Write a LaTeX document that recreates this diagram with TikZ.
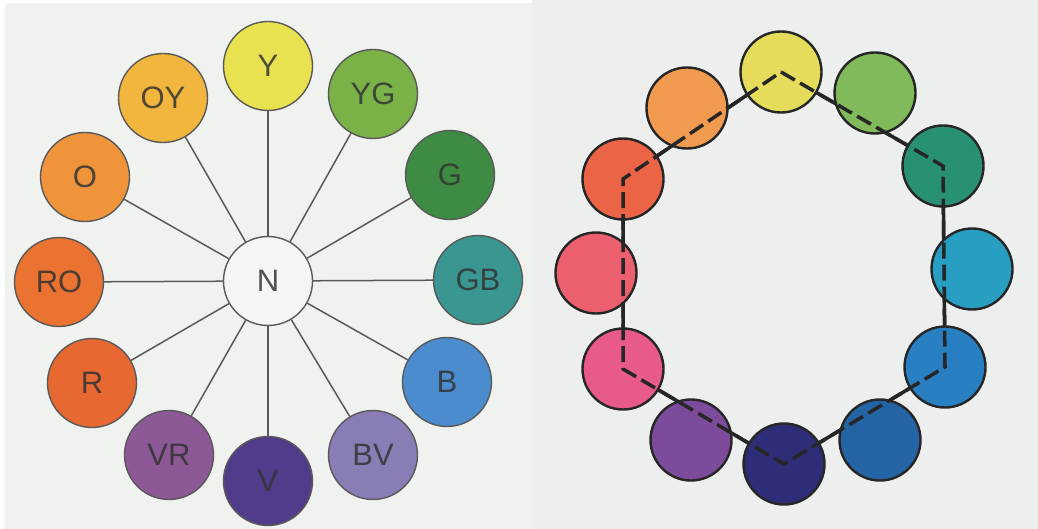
\documentclass[tikz,border=0pt]{standalone}
\usepackage{fontspec}
\setmainfont{Liberation Sans}

% 左图色相
\definecolor{hueY}{HTML}{E8E250}
\definecolor{hueYG}{HTML}{7AB248}
\definecolor{hueG}{HTML}{3E8C44}
\definecolor{hueGB}{HTML}{3A9691}
\definecolor{hueB}{HTML}{4A8CCD}
\definecolor{hueBV}{HTML}{8A7CB4}
\definecolor{hueV}{HTML}{503C8A}
\definecolor{hueVR}{HTML}{8C5896}
\definecolor{hueR}{HTML}{E86832}
\definecolor{hueRO}{HTML}{EB7332}
\definecolor{hueO}{HTML}{F0943C}
\definecolor{hueOY}{HTML}{F2B63E}
\definecolor{hueN}{HTML}{F5F6F4}
% 右图色相
\definecolor{dotY}{HTML}{E4DC5A}
\definecolor{dotYG}{HTML}{80BA5A}
\definecolor{dotG}{HTML}{289173}
\definecolor{dotGB}{HTML}{289EC3}
\definecolor{dotB}{HTML}{2880C3}
\definecolor{dotBV}{HTML}{2364A5}
\definecolor{dotV}{HTML}{2D2D78}
\definecolor{dotVR}{HTML}{7D4B9B}
\definecolor{dotR}{HTML}{E85A8C}
\definecolor{dotRO}{HTML}{EB5F6E}
\definecolor{dotO}{HTML}{EB6446}
\definecolor{dotOY}{HTML}{F09B50}
% 纸色
\definecolor{paperL}{HTML}{F0F2EF}
\definecolor{paperR}{HTML}{EDEFEF}

\begin{document}
\begin{tikzpicture}[x=1pt, y=-1pt,
    hue/.style={circle, draw=black!65, line width=1.4pt, minimum size=89pt, inner sep=0pt,
        font=\fontsize{31}{36}\selectfont, text=black!80, text opacity=0.85},
    spoke/.style={black!65, line width=1.5pt},
    disc/.style={circle, draw=black!85, line width=2.4pt, minimum size=81pt, inner sep=0pt},
    hexa/.style={black!85, line width=3.5pt}]
    \useasboundingbox (0,0) rectangle (1038,529);
    % 底色
    \fill[white] (0,0) rectangle (1038,529);
    \fill[paperL] (5,3) rectangle (532,529);
    \fill[paperR] (532,0) rectangle (1038,529);

    % 左：十二色相与中间的 N
    \node[hue, fill=hueN] (n) at (268,281) {N};
    \node[hue, fill=hueY] (y) at (268,66) {Y};
    \node[hue, fill=hueYG] (yg) at (373,94) {YG};
    \node[hue, fill=hueG] (g) at (450,175) {G};
    \node[hue, fill=hueGB] (gb) at (478,280) {GB};
    \node[hue, fill=hueB] (b) at (447,382) {B};
    \node[hue, fill=hueBV] (bv) at (373,455) {BV};
    \node[hue, fill=hueV] (v) at (268,481) {V};
    \node[hue, fill=hueVR] (vr) at (169,455) {VR};
    \node[hue, fill=hueR] (r) at (92,383) {R};
    \node[hue, fill=hueRO] (ro) at (59,282) {RO};
    \node[hue, fill=hueO] (o) at (85,177) {O};
    \node[hue, fill=hueOY] (oy) at (163,98) {OY};

    % 辐线
    \draw[spoke] (n) -- (y);
    \draw[spoke] (n) -- (yg);
    \draw[spoke] (n) -- (g);
    \draw[spoke] (n) -- (gb);
    \draw[spoke] (n) -- (b);
    \draw[spoke] (n) -- (bv);
    \draw[spoke] (n) -- (v);
    \draw[spoke] (n) -- (vr);
    \draw[spoke] (n) -- (r);
    \draw[spoke] (n) -- (ro);
    \draw[spoke] (n) -- (o);
    \draw[spoke] (n) -- (oy);

    % 右：六边形顶点
    \coordinate (cy) at (781,72);
    \coordinate (cg) at (943,166);
    \coordinate (cb) at (945,367);
    \coordinate (cv) at (784,464);
    \coordinate (cr) at (623,369);
    \coordinate (co) at (623,179);
    % 实线（被色圆压住）
    \draw[hexa] (cy) -- (cg) -- (cb) -- (cv) -- (cr) -- (co) -- cycle;

    % 色圆
    \node[disc, fill=dotY] (dy) at (cy) {};
    \node[disc, fill=dotYG] (dyg) at (875,93) {};
    \node[disc, fill=dotG] (dg) at (cg) {};
    \node[disc, fill=dotGB] (dgb) at (972,269) {};
    \node[disc, fill=dotB] (db) at (cb) {};
    \node[disc, fill=dotBV] (dbv) at (880,440) {};
    \node[disc, fill=dotV] (dv) at (cv) {};
    \node[disc, fill=dotVR] (dvr) at (691,440) {};
    \node[disc, fill=dotR] (dr) at (cr) {};
    \node[disc, fill=dotRO] (dro) at (596,273) {};
    \node[disc, fill=dotO] (do) at (co) {};
    \node[disc, fill=dotOY] (doy) at (687,108) {};

    % 圆内的虚线
    \draw[hexa, dash pattern=on 16pt off 6pt]
        (dy.center) -- (dg.center) -- (db.center) -- (dv.center) -- (dr.center) -- (do.center) -- cycle;
\end{tikzpicture}
\end{document}
